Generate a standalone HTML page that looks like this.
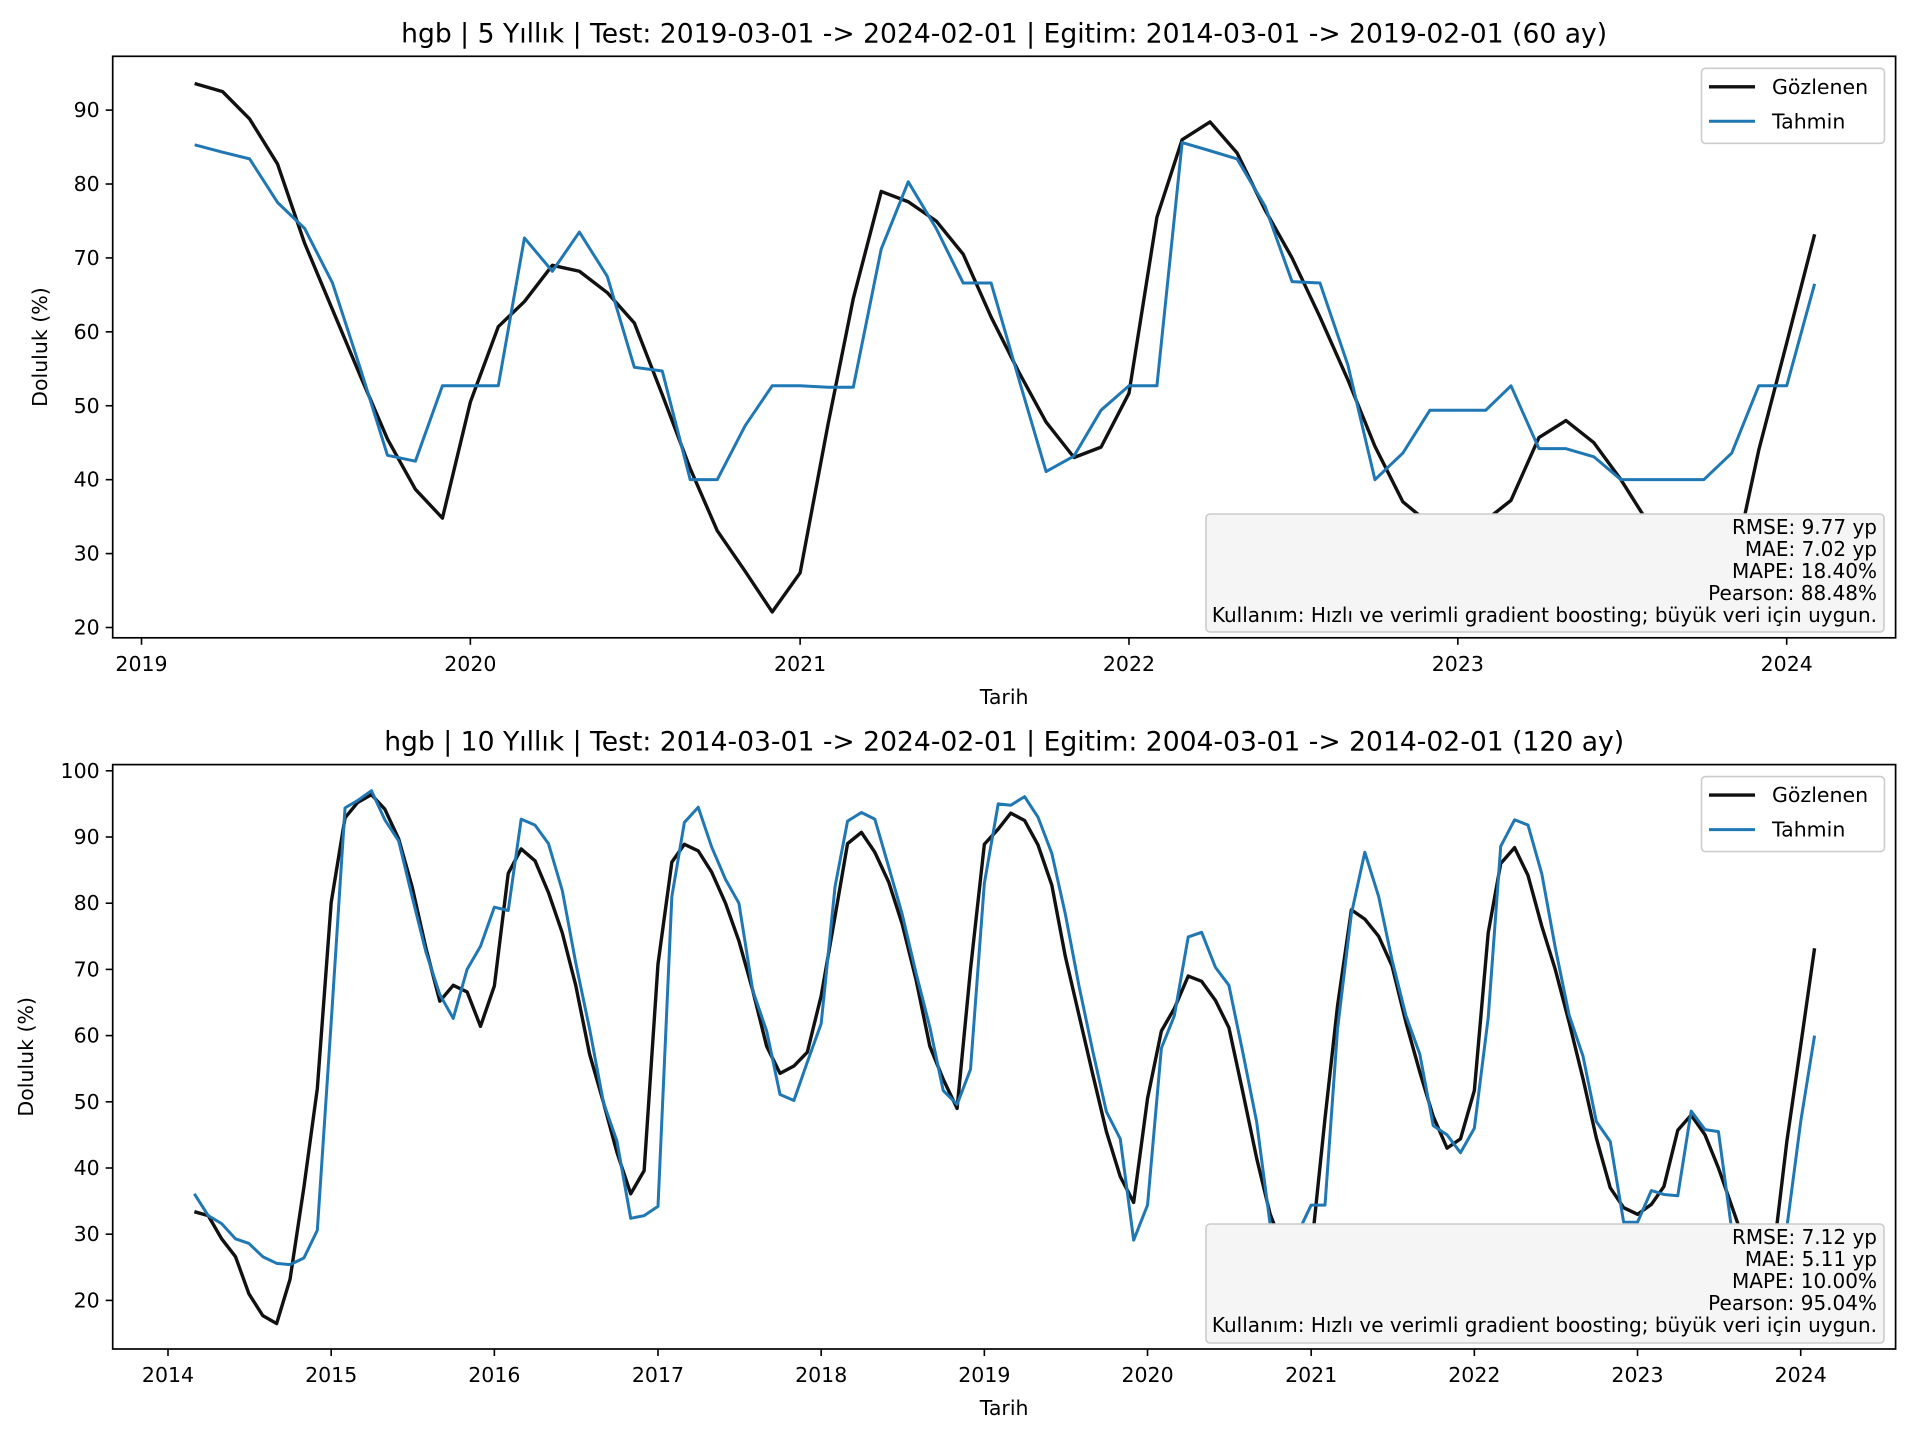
<!DOCTYPE html>
<html><head><meta charset="utf-8"><style>
html,body{margin:0;padding:0;background:#fff;}
svg{display:block;font-family:"DejaVu Sans","Liberation Sans",sans-serif;}
</style></head><body>
<svg id="fig" width="1920" height="1440" viewBox="0 0 1920 1440" xmlns="http://www.w3.org/2000/svg"></svg>
<script>
const topObserved=[93.6,92.5,88.8,82.7,72,63,54,45.5,38.7,34.8,
50.5,60.7,64.1,69,68.2,65.3,61.2,51.5,41.5,33.1,27.6,22.1,
27.4,47.5,64.5,79,77.6,75,70.5,62,54.5,47.8,43,44.4,
51.7,75.5,86,88.4,84.2,76.5,70,62,53.5,44.5,37,34,
33,34.5,37.2,45.7,48,45,40,34,28,25,27,44,
58.5,73.2];
const topPredicted=[85.3,84.3,83.4,77.5,74,66.6,55,43.3,42.5,52.7,
52.7,52.7,72.7,68.2,73.5,67.5,55.2,54.7,40,40,47.3,52.7,
52.7,52.5,52.5,71.2,80.3,74,66.6,66.6,53.5,41.1,43.2,49.4,
52.7,52.7,85.6,84.5,83.4,77,66.8,66.6,55.5,40,43.6,49.4,
49.4,49.4,52.7,44.2,44.2,43.1,40,40,40,40,43.6,52.7,
52.7,66.5];
const botObservedEarly=[33.4,32.8,29.3,26.6,21,17.7,16.5,23.2,37.1,52,
80.1,92.9,95.2,96.4,94.2,89.7,82.5,73.2,65.2,67.6,66.6,61.4,
67.5,84.5,88.2,86.4,81.6,75.5,67.6,57.2,49.9,42.4,36.1,39.6,
70.8,86.2,88.9,87.9,84.7,80,74.3,66.8,58.4,54.3,55.4,57.5,
66,78,89,90.7,87.7,83.2,76.9,68.5,58.4,53.4,49,70,
88.9,91.2];
const botObserved=botObservedEarly.concat(topObserved);
const botPredicted=[36.1,32.8,31.6,29.3,28.6,26.6,25.6,25.4,26.4,30.6,
62,94.4,95.5,97,92.6,89.4,81,72.6,66.2,62.6,70,73.5,
79.4,78.9,92.7,91.8,89,81.9,71,61,49.9,44.1,32.4,32.8,
34.2,81,92.2,94.5,88.5,83.6,80,66.8,60.7,51.1,50.2,56,
61.8,82.5,92.4,93.7,92.7,85.5,78.4,69.5,61.3,51.7,49.6,54.9,
83,95,94.8,96.1,93,87.5,78.4,67.4,57.5,48.5,44.4,29.1,
34.4,58.1,63,74.9,75.6,70.3,67.6,57.5,47,31.6,28,30,
34.4,34.4,61,78.4,87.7,81,71.4,63,57.2,46.4,45,42.3,
46,62.7,88.6,92.6,91.8,84.4,73.3,63.1,56.9,47,44,31.8,
31.8,36.6,36,35.8,48.6,45.8,45.5,30,25,24,27,31,
47,60];
const topYTicks=[20,30,40,50,60,70,80,90];
const botYTicks=[20,30,40,50,60,70,80,90,100];
const topXTicks=[2019,2020,2021,2022,2023,2024];
const botXTicks=[2014,2015,2016,2017,2018,2019,2020,2021,2022,2023,2024];
const topStats=["RMSE: 9.77 yp","MAE: 7.02 yp","MAPE: 18.40%","Pearson: 88.48%","Kullanım: Hızlı ve verimli gradient boosting; büyük veri için uygun."];
const botStats=["RMSE: 7.12 yp","MAE: 5.11 yp","MAPE: 10.00%","Pearson: 95.04%","Kullanım: Hızlı ve verimli gradient boosting; büyük veri için uygun."];

const NS="http://www.w3.org/2000/svg";
const svg=document.getElementById('fig');
function mk(tag,attrs,parent){const e=document.createElementNS(NS,tag);for(const k in attrs)e.setAttribute(k,attrs[k]);(parent||svg).appendChild(e);return e;}
function dayNum(y,m){return Date.UTC(y,m-1,1)/86400000;}

function panel(cfg){
  const g=mk('g',{});
  
  
  const L=cfg.left,R=cfg.right,T=cfg.top,B=cfg.bottom;
  const d0=dayNum(cfg.x0,1),d1=dayNum(cfg.x1,1);
  const xs=(y,m)=>cfg.px0+(dayNum(y,m)-d0)/(d1-d0)*(cfg.px1-cfg.px0);
  const ys=v=>cfg.py0+(v-cfg.v0)/(cfg.v1-cfg.v0)*(cfg.py1-cfg.py0);
  const cid='clip-'+cfg.name;
  const cp=mk('clipPath',{id:cid},g);mk('rect',{x:L,y:T,width:R-L,height:B-T},cp);
  function series(vals,color,w,name){
    let pts=[];
    for(let i=0;i<vals.length;i++){let mo=cfg.sm-1+i;const y=cfg.sy+Math.floor(mo/12);const m=mo%12+1;pts.push(xs(y,m).toFixed(2)+','+ys(vals[i]).toFixed(2));}
    const p=mk('polyline',{points:pts.join(' '),fill:'none',stroke:color,'stroke-width':w,'stroke-linejoin':'round','clip-path':'url(#'+cid+')'},g);
    
    
  }
  series(cfg.obs,'#111111',3.4,'observed-line');
  series(cfg.pred,'#1f77b4',3,'predicted-line');
  const fr=mk('rect',{x:L,y:T,width:R-L,height:B-T,fill:'none',stroke:'#000','stroke-width':1.7},g);
  
  
  cfg.yt.forEach(v=>{const y=ys(v);mk('line',{x1:L-7,x2:L,y1:y,y2:y,stroke:'#000','stroke-width':1.6},g);
    const t=mk('text',{x:L-13,y:y+7,'text-anchor':'end','font-size':20.5,fill:'#000'},g);t.textContent=v;
    
    });
  cfg.xt.forEach(yr=>{const x=xs(yr,1);mk('line',{x1:x,x2:x,y1:B,y2:B+7,stroke:'#000','stroke-width':1.6},g);
    const t=mk('text',{x:x,y:B+33,'text-anchor':'middle','font-size':20.5,fill:'#000'},g);t.textContent=yr;
    
    });
  const ti=mk('text',{x:(L+R)/2,y:T-14,'text-anchor':'middle','font-size':26.6,fill:'#000'},g);ti.textContent=cfg.title;
  
  
  const xl=mk('text',{x:(L+R)/2,y:B+66,'text-anchor':'middle','font-size':20.5,fill:'#000'},g);xl.textContent='Tarih';
  
  
  const yl=mk('text',{x:0,y:0,'text-anchor':'middle','font-size':20.5,fill:'#000',transform:'translate('+cfg.ylx+','+((T+B)/2)+') rotate(-90)'},g);yl.textContent='Doluluk (%)';
  
  
  const lg=mk('g',{},g);
  
  
  mk('rect',{x:1701.5,y:T+12,width:183,height:75,rx:4,fill:'#fff','fill-opacity':0.8,stroke:'#cccccc','stroke-width':1.6},lg);
  [['Gözlenen','#111111',30.5],['Tahmin','#1f77b4',65]].forEach(e=>{
    const ln=mk('line',{x1:1709,x2:1755,y1:T+e[2],y2:T+e[2],stroke:e[1],'stroke-width':e[1]=='#111111'?3.4:3},lg);
    
    
    const t=mk('text',{x:1772,y:T+e[2]+7,'font-size':20.5,fill:'#000'},lg);t.textContent=e[0];
    
    });
  const sb=mk('g',{},g);
  
  
  mk('rect',{x:1206,y:cfg.boxTop,width:678,height:cfg.boxH,rx:4,fill:'#f5f5f5',stroke:'#cccccc','stroke-width':1.6},sb);
  cfg.stats.forEach((s,i)=>{const t=mk('text',{x:1877,y:cfg.boxTop+20+i*22,'text-anchor':'end','font-size':20,fill:'#000'},sb);t.textContent=s;
    
    });
}
panel({name:'top-chart',left:112.7,right:1895.6,top:56.3,bottom:637.8,x0:2019,x1:2024,px0:141.5,px1:1786.7,
  v0:90,v1:20,py0:110.1,py1:627.5,sy:2019,sm:3,obs:topObserved,pred:topPredicted,yt:topYTicks,xt:topXTicks,
  title:'hgb | 5 Yıllık | Test: 2019-03-01 -> 2024-02-01 | Egitim: 2014-03-01 -> 2019-02-01 (60 ay)',ylx:47,
  boxTop:514,boxH:118,stats:topStats});
panel({name:'bottom-chart',left:112.7,right:1895.6,top:764.6,bottom:1349,x0:2014,x1:2024,px0:168,px1:1800.7,
  v0:100,v1:20,py0:770.8,py1:1300.4,sy:2014,sm:3,obs:botObserved,pred:botPredicted,yt:botYTicks,xt:botXTicks,
  title:'hgb | 10 Yıllık | Test: 2014-03-01 -> 2024-02-01 | Egitim: 2004-03-01 -> 2014-02-01 (120 ay)',ylx:33,
  boxTop:1224,boxH:119,stats:botStats});
</script>
</body></html>
